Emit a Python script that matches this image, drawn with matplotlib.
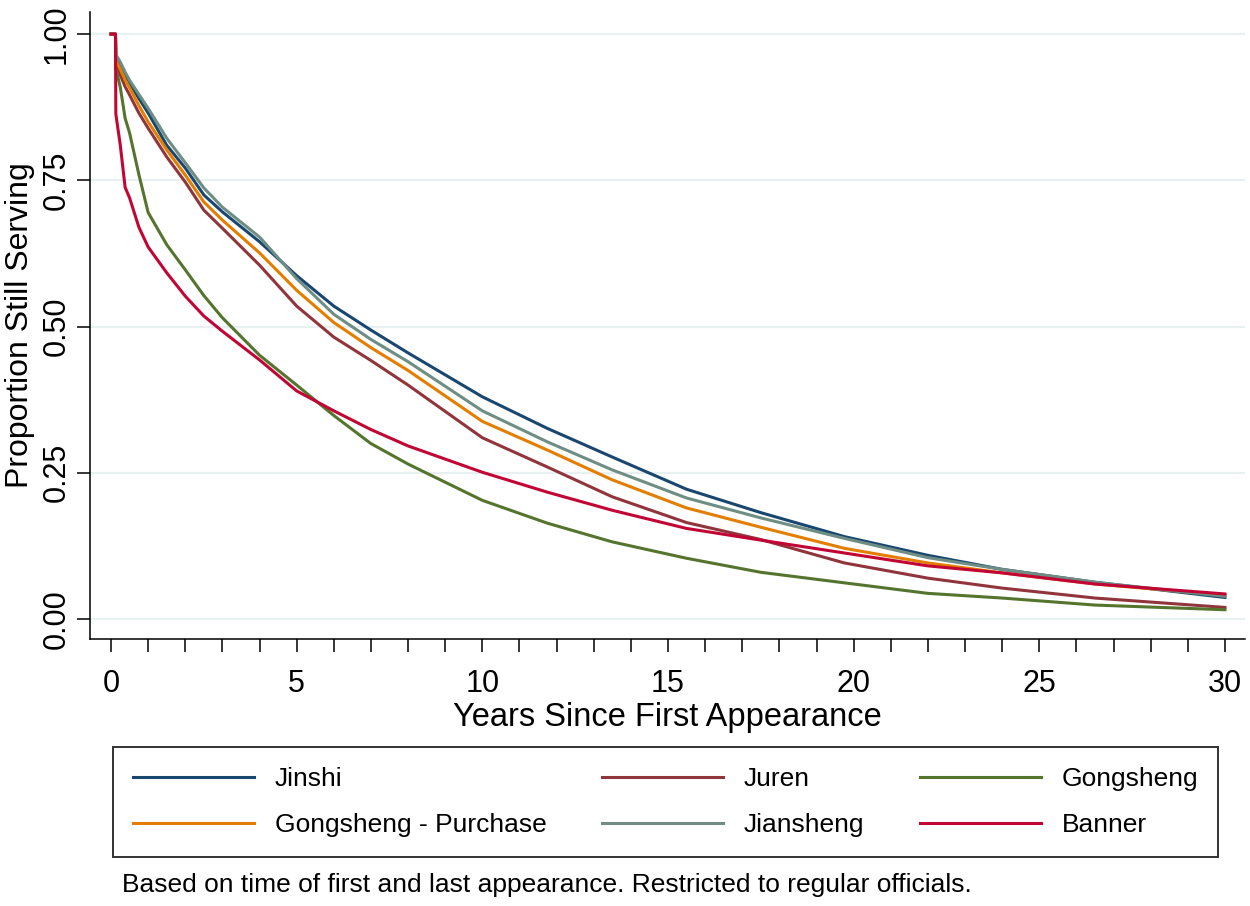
#!/usr/bin/env python3
import matplotlib

matplotlib.use("Agg")
import matplotlib.pyplot as plt
from matplotlib.ticker import FormatStrFormatter, MultipleLocator

plt.rcParams["font.family"] = ["Liberation Sans", "DejaVu Sans"]

# years since first appearance
years = [0, 0.12, 0.13, 0.25, 0.38, 0.5, 0.75, 1, 1.5, 2, 2.5, 3, 4, 5, 6, 7,
         8, 10, 11.75, 13.5, 15.5, 17.5, 19.75, 22, 24, 26.5, 30]

jinshi = [1.0, 1.0, 0.958, 0.945, 0.93, 0.916, 0.89, 0.865, 0.81, 0.771, 0.725,
          0.696, 0.645, 0.587, 0.535, 0.494, 0.455, 0.38, 0.326, 0.277, 0.222,
          0.182, 0.141, 0.109, 0.085, 0.063, 0.037]
juren = [1.0, 1.0, 0.948, 0.93, 0.91, 0.896, 0.865, 0.839, 0.79, 0.747, 0.699,
         0.668, 0.605, 0.535, 0.482, 0.442, 0.40, 0.31, 0.26, 0.209, 0.165,
         0.136, 0.096, 0.07, 0.053, 0.036, 0.02]
gongsheng = [1.0, 1.0, 0.942, 0.909, 0.856, 0.831, 0.76, 0.695, 0.64, 0.597,
             0.553, 0.515, 0.451, 0.40, 0.348, 0.30, 0.265, 0.203, 0.164,
             0.132, 0.104, 0.08, 0.062, 0.044, 0.036, 0.024, 0.016]
purchase = [1.0, 1.0, 0.955, 0.94, 0.922, 0.908, 0.878, 0.85, 0.802, 0.759,
            0.713, 0.682, 0.626, 0.562, 0.507, 0.464, 0.425, 0.338, 0.289,
            0.238, 0.19, 0.157, 0.121, 0.096, 0.079, 0.06, 0.041]
jiansheng = [1.0, 1.0, 0.965, 0.952, 0.935, 0.921, 0.897, 0.873, 0.822, 0.78,
             0.737, 0.704, 0.653, 0.582, 0.521, 0.478, 0.44, 0.356, 0.303,
             0.255, 0.207, 0.173, 0.138, 0.105, 0.085, 0.063, 0.039]
banner = [1.0, 1.0, 0.863, 0.81, 0.738, 0.72, 0.67, 0.636, 0.592, 0.552, 0.518,
          0.492, 0.443, 0.39, 0.356, 0.324, 0.296, 0.251, 0.217, 0.186,
          0.155, 0.135, 0.113, 0.091, 0.079, 0.06, 0.043]

series = [
    ("Jinshi", jinshi, "#1a476f"),
    ("Juren", juren, "#90353b"),
    ("Gongsheng", gongsheng, "#55752f"),
    ("Gongsheng - Purchase", purchase, "#e37e00"),
    ("Jiansheng", jiansheng, "#6e8e84"),
    ("Banner", banner, "#c10534"),
]

fig = plt.figure(figsize=(12.5, 9.06), dpi=100)
ax = fig.add_axes([0.072, 0.2947, 0.924, 0.692])

lines = {}
for name, vals, color in series:
    (ln,) = ax.plot(years, vals, color=color, lw=2.2, label=name)
    lines[name] = ln

ax.set_xlim(-0.566, 30.54)
ax.set_ylim(-0.034, 1.0376)

ax.yaxis.set_major_locator(MultipleLocator(0.25))
ax.yaxis.set_major_formatter(FormatStrFormatter("%.2f"))
ax.xaxis.set_major_locator(MultipleLocator(5))
ax.xaxis.set_minor_locator(MultipleLocator(1))
ax.yaxis.grid(True, color="#e8f0f2", lw=1.6)
ax.set_axisbelow(True)

for side in ("top", "right"):
    ax.spines[side].set_visible(False)
for side in ("left", "bottom"):
    ax.spines[side].set_linewidth(1.1)

ax.tick_params(axis="both", which="both", length=9.5, width=1.1, direction="out")
ax.tick_params(axis="x", labelsize=22, pad=12)
ax.tick_params(axis="y", labelsize=22, pad=4)
plt.setp(ax.get_yticklabels(), rotation=90, va="center")

ax.set_xlabel("Years Since First Appearance", fontsize=23.5, labelpad=2)
ax.set_ylabel("Proportion Still Serving", fontsize=23, va="center", ha="center")
ax.yaxis.set_label_coords(-0.061, 0.5)

order = ["Jinshi", "Gongsheng - Purchase", "Juren", "Jiansheng", "Gongsheng", "Banner"]
leg = fig.legend(
    [lines[n] for n in order],
    order,
    loc="upper left",
    bbox_to_anchor=(113 / 1250, 1 - 747 / 906),
    ncol=3,
    fontsize=19,
    frameon=True,
    fancybox=False,
    edgecolor="black",
    handlelength=4.6,
    handletextpad=0.78,
    columnspacing=2.1,
    labelspacing=0.84,
    borderpad=0.75,
    borderaxespad=0,
)
leg.get_frame().set_linewidth(1.4)
for h in leg.get_lines():
    h.set_linewidth(2.2)

fig.text(122 / 1250, 1 - 885 / 906,
         "Based on time of first and last appearance. Restricted to regular officials.",
         fontsize=19, va="center", ha="left")

fig.savefig("out.png", dpi=100)
